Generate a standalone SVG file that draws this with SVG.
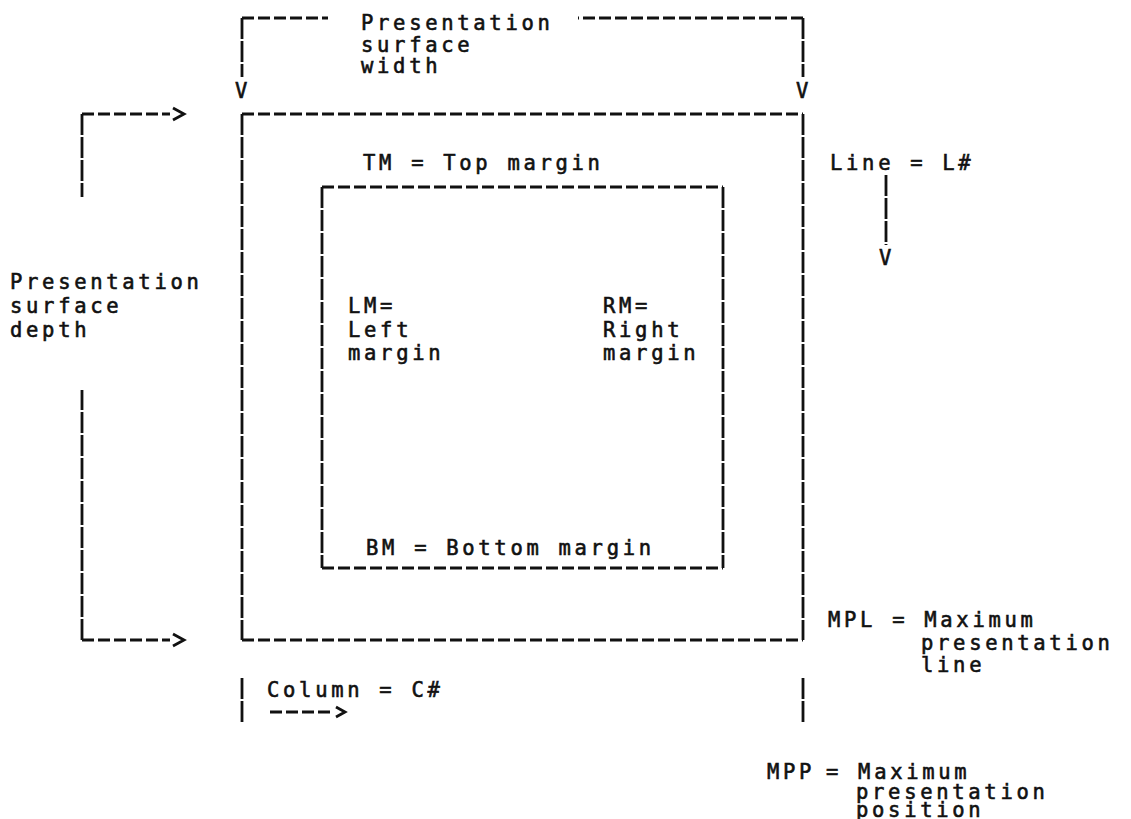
<svg xmlns="http://www.w3.org/2000/svg" width="1131" height="819" viewBox="0 0 1131 819">
<style>
.t{font-family:"DejaVu Sans Mono","Liberation Mono",monospace;font-size:20.5px;letter-spacing:3.7px;fill:#111;stroke:#111;stroke-width:0.6px;white-space:pre}
.h{stroke:#111;stroke-width:2.8;fill:none;stroke-dasharray:12 4}
.v{stroke:#111;stroke-width:2.8;fill:none;stroke-dasharray:21 2}
.a{stroke:#111;stroke-width:2.8;fill:none;stroke-linejoin:miter}
</style>
<rect width="1131" height="819" fill="#fff"/>
<g id="connectors">
  <path class="h" d="M242 18H328"/>
  <path class="h" d="M803 18H578"/>
  <path class="v" d="M242 18V77"/>
  <path class="v" d="M803 18V77"/>
  <text class="t" x="235" y="98">V</text>
  <text class="t" x="796" y="98">V</text>
  <path class="v" d="M82 114V197"/>
  <path class="v" d="M82 640V390"/>
  <path class="h" d="M82 114H170"/>
  <path class="h" d="M82 640H170"/>
  <polyline class="a" points="173,108 184,114 173,120"/>
  <polyline class="a" points="173,634 184,640 173,646"/>
  <path class="v" d="M886 175V245"/>
  <text class="t" x="879" y="265">V</text>
  <path class="h" d="M270 712H334"/>
  <polyline class="a" points="336,707 345,712 336,717"/>
  <path class="v" d="M242 678V723"/>
  <path class="v" d="M803 678V723"/>
</g>
<g id="outer-box">
  <path class="h" d="M242 114H803"/>
  <path class="h" d="M242 640H803"/>
  <path class="v" d="M242 114V640"/>
  <path class="v" d="M803 114V640"/>
</g>
<g id="inner-box">
  <path class="h" d="M322 187H723"/>
  <path class="h" d="M322 568H723"/>
  <path class="v" d="M322 187V568"/>
  <path class="v" d="M723 187V568"/>
</g>
<g id="width-label">
  <text class="t" x="361" y="30">Presentation</text>
  <text class="t" x="361" y="52">surface</text>
  <text class="t" x="361" y="73">width</text>
</g>
<g id="depth-label">
  <text class="t" x="10" y="289">Presentation</text>
  <text class="t" x="10" y="313">surface</text>
  <text class="t" x="10" y="337">depth</text>
</g>
<g id="tm-label"><text class="t" x="363" y="170">TM = Top margin</text></g>
<g id="line-label"><text class="t" x="830" y="170">Line = L#</text></g>
<g id="lm-label">
  <text class="t" x="348" y="313">LM=</text>
  <text class="t" x="348" y="337">Left</text>
  <text class="t" x="348" y="360">margin</text>
</g>
<g id="rm-label">
  <text class="t" x="603" y="313">RM=</text>
  <text class="t" x="603" y="337">Right</text>
  <text class="t" x="603" y="360">margin</text>
</g>
<g id="bm-label"><text class="t" x="366" y="555">BM = Bottom margin</text></g>
<g id="mpl-label">
  <text class="t" x="828" y="627">MPL = Maximum</text>
  <text class="t" x="921" y="650">presentation</text>
  <text class="t" x="921" y="672">line</text>
</g>
<g id="column-label"><text class="t" x="267" y="697">Column = C#</text></g>
<g id="mpp-label">
  <text class="t" x="767" y="779">MPP</text>
  <text class="t" x="826" y="779">= Maximum</text>
  <text class="t" x="856" y="799">presentation</text>
  <text class="t" x="856" y="817">position</text>
</g>
</svg>
